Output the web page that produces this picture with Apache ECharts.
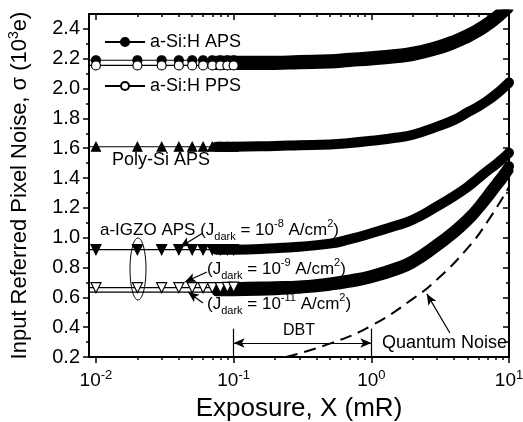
<!DOCTYPE html>
<html>
<head>
<meta charset="utf-8">
<script src="https://cdn.jsdelivr.net/npm/echarts@6/dist/echarts.min.js"></script>
<style>
html, body { margin: 0; padding: 0; background: #fff; }
#chart { width: 523px; height: 422px; }
</style>
</head>
<body>
<div id="chart"></div>
<script>
// exposure (mR) of the single markers on the left, before they merge
const markX = [0.0089, 0.01, 0.02, 0.03, 0.04, 0.05, 0.06, 0.07, 0.08, 0.09, 0.1];
// exposure (mR) along the merged marker band
const bandX = [0.075, 0.1, 0.2, 0.3, 0.5, 0.7, 1, 1.5, 2, 3, 4, 5, 6, 7, 8, 9, 10];

// noise (10^3 e) at markX
const siApsMarks = [2.19, 2.19, 2.19, 2.19, 2.19, 2.19, 2.19, 2.19, 2.19, 2.19, 2.19];
const siPpsMarks = [2.155, 2.155, 2.155, 2.155, 2.155, 2.155, 2.155, 2.155, 2.155, 2.155, 2.155];
const polyMarks = [1.61, 1.61, 1.61, 1.61, 1.61, 1.61, 1.61, 1.61, 1.61, 1.61, 1.61];
const igzo8Marks = [0.92, 0.92, 0.92, 0.92, 0.92, 0.92, 0.92, 0.92, 0.92, 0.92, 0.92];
const igzo9Marks = [0.665, 0.665, 0.665, 0.665, 0.665, 0.665, 0.665, 0.665, 0.665, 0.667, 0.668];
const igzo11Marks = [0.635, 0.635, 0.635, 0.635, 0.635, 0.635, 0.635, 0.635, 0.636, 0.637, 0.638];

// noise (10^3 e) at bandX
const siApsBand = [2.19, 2.19, 2.19, 2.195, 2.2, 2.21, 2.22, 2.235, 2.25, 2.29, 2.33, 2.37, 2.41, 2.45, 2.49, 2.53, 2.57];
const siPpsBand = [2.155, 2.155, 2.155, 2.16, 2.165, 2.175, 2.185, 2.2, 2.215, 2.255, 2.295, 2.335, 2.375, 2.415, 2.455, 2.495, 2.535];
const polyBand = [1.61, 1.61, 1.615, 1.62, 1.625, 1.635, 1.65, 1.67, 1.69, 1.745, 1.79, 1.84, 1.88, 1.92, 1.96, 2.0, 2.04];
const igzo8Band = [0.92, 0.92, 0.93, 0.94, 0.96, 0.99, 1.03, 1.08, 1.12, 1.21, 1.28, 1.34, 1.40, 1.45, 1.49, 1.53, 1.57];
const igzo9Band = [0.667, 0.668, 0.675, 0.68, 0.70, 0.72, 0.75, 0.80, 0.85, 0.96, 1.05, 1.13, 1.21, 1.29, 1.36, 1.42, 1.48];
const igzo11Band = [0.637, 0.638, 0.645, 0.655, 0.675, 0.695, 0.725, 0.775, 0.825, 0.935, 1.025, 1.105, 1.185, 1.26, 1.33, 1.39, 1.45];

// quantum noise (dashed)
const quantumX = [0.24, 0.5, 1, 2, 3, 5, 7, 10];
const quantumY = [0.2, 0.29, 0.41, 0.59, 0.72, 0.93, 1.11, 1.34];

// ticks
const xMajor = [0.01, 0.1, 1, 10];
const xMinor = [0.02, 0.03, 0.04, 0.05, 0.06, 0.07, 0.08, 0.09,
    0.2, 0.3, 0.4, 0.5, 0.6, 0.7, 0.8, 0.9, 2, 3, 4, 5, 6, 7, 8, 9];
const yMajor = [0.2, 0.4, 0.6, 0.8, 1.0, 1.2, 1.4, 1.6, 1.8, 2.0, 2.2, 2.4];
const yMinor = [0.3, 0.5, 0.7, 0.9, 1.1, 1.3, 1.5, 1.7, 1.9, 2.1, 2.3];

const FONT = 'Liberation Sans, Arial, sans-serif';
const xMin = 0.0089, xMax = 10, yMin = 0.2, yMax = 2.5;

let chart = echarts.init(document.getElementById('chart'), null, {renderer: 'canvas'});

function xAx(pos, ticks, len, inside, extra) {
    return Object.assign({
        type: 'log', logBase: 10, position: pos, min: xMin, max: xMax,
        axisLine: {show: true, lineStyle: {color: '#000', width: 2}},
        axisTick: {show: true, customValues: ticks, length: len, inside: inside, lineStyle: {color: '#000', width: 1.5}},
        axisLabel: {show: false},
        splitLine: {show: false}, minorTick: {show: false}, minorSplitLine: {show: false}
    }, extra || {});
}

function yAx(pos, ticks, len, inside, extra) {
    return Object.assign({
        type: 'value', position: pos, min: yMin, max: yMax,
        axisLine: {show: true, lineStyle: {color: '#000', width: 2}},
        axisTick: {show: true, customValues: ticks, length: len, inside: inside, lineStyle: {color: '#000', width: 1.5}},
        axisLabel: {show: false},
        splitLine: {show: false}, minorTick: {show: false}, minorSplitLine: {show: false}
    }, extra || {});
}

function markSeries(name, ys, sym, fill, rotate, size) {
    return {
        type: 'line', name: name, xAxisIndex: 0, yAxisIndex: 0,
        data: markX.map((x, i) => x < 0.01 ? {value: [x, ys[i]], symbol: 'none'} : [x, ys[i]]),
        symbol: sym, symbolSize: size || 9, symbolRotate: rotate || 0, showAllSymbol: true,
        lineStyle: {color: '#000', width: 1.2},
        itemStyle: {color: fill, borderColor: '#000', borderWidth: 1.2},
        z: 4
    };
}

function bandSeries(name, ys, width) {
    return {
        type: 'line', name: name, xAxisIndex: 0, yAxisIndex: 0,
        data: bandX.map((x, i) => [x, ys[i]]),
        symbol: 'none', smooth: true,
        lineStyle: {color: '#000', width: width || 10, cap: 'round'},
        z: 3
    };
}

const sup = {fontSize: 11, lineHeight: 12, verticalAlign: 'top', fontFamily: FONT, fill: '#000'};
const sub = {fontSize: 11, lineHeight: 12, verticalAlign: 'bottom', fontFamily: FONT, fill: '#000'};
const txt = {fontSize: 17, lineHeight: 24, fontFamily: FONT, fill: '#000'};

function jdark(exp) {
    return '{t|(J}{sub|dark}{t| = 10}{sup|' + exp + '}{t| A/cm}{sup|2}{t|)}';
}

let option = {
    animation: false,
    backgroundColor: '#fff',
    grid: {left: 89, right: 14, top: 14, bottom: 65, outerBoundsMode: 'none'},
    legend: {
        data: ['a-Si:H APS', 'a-Si:H PPS'],
        orient: 'vertical', left: 99, top: 27,
        itemWidth: 40, itemHeight: 10, itemGap: 24,
        selectedMode: false,
        textStyle: {fontSize: 18, lineHeight: 20, fontFamily: FONT, color: '#000'}
    },
    xAxis: [
        xAx('bottom', xMajor, 6, false, {
            name: 'Exposure, X (mR)', nameLocation: 'middle', nameGap: 38,
            nameTextStyle: {fontSize: 26, fontFamily: FONT, color: '#000'},
            axisLabel: {
                show: true, customValues: xMajor, margin: 12,
                formatter: v => '{b|10}{s|' + Math.round(Math.log10(v)) + '}',
                rich: {
                    b: {fontSize: 19, lineHeight: 24, fontFamily: FONT, color: '#000'},
                    s: {fontSize: 13, lineHeight: 14, verticalAlign: 'top', fontFamily: FONT, color: '#000'}
                }
            }
        }),
        xAx('bottom', xMinor, 3, false, {axisLine: {show: false}}),
        xAx('top', xMajor, 6, true),
        xAx('top', xMinor, 3, true, {axisLine: {show: false}})
    ],
    yAxis: [
        yAx('left', yMajor, 6, false, {
            name: '{t|Input Referred Pixel Noise, σ (10}{s|3}{t|e)}',
            nameLocation: 'middle', nameGap: 56,
            nameTextStyle: {
                rich: {
                    t: {fontSize: 22, lineHeight: 26, fontFamily: FONT, color: '#000'},
                    s: {fontSize: 14, lineHeight: 14, verticalAlign: 'top', fontFamily: FONT, color: '#000'}
                }
            },
            axisLabel: {
                show: true, customValues: yMajor, margin: 9,
                formatter: v => v.toFixed(1),
                fontSize: 20, fontFamily: FONT, color: '#000'
            }
        }),
        yAx('left', yMinor, 3, false, {axisLine: {show: false}}),
        yAx('right', yMajor, 6, true),
        yAx('right', yMinor, 3, true, {axisLine: {show: false}})
    ],
    series: [
        bandSeries('aps-band', siApsBand, 9),
        bandSeries('pps-band', siPpsBand, 9),
        bandSeries('poly-band', polyBand, 10),
        bandSeries('igzo8-band', igzo8Band, 10),
        bandSeries('igzo9-band', igzo9Band, 10),
        bandSeries('igzo11-band', igzo11Band, 9),
        markSeries('a-Si:H APS', siApsMarks, 'circle', '#000'),
        markSeries('a-Si:H PPS', siPpsMarks, 'circle', '#fff'),
        markSeries('Poly-Si APS', polyMarks, 'triangle', '#000', 0, 9),
        markSeries('a-IGZO 1e-8', igzo8Marks, 'triangle', '#000', 180, 10),
        markSeries('a-IGZO 1e-9', igzo9Marks, 'triangle', '#fff', 180, 10),
        markSeries('a-IGZO 1e-11', igzo11Marks, 'none', '#000'),
        {
            type: 'line', name: 'Quantum Noise', xAxisIndex: 0, yAxisIndex: 0,
            data: quantumX.map((x, i) => [x, quantumY[i]]),
            symbol: 'none', smooth: true,
            lineStyle: {color: '#000', width: 2, type: [12, 7]},
            z: 2
        },
        {
            type: 'line', name: 'notes', xAxisIndex: 0, yAxisIndex: 0, data: [],
            markLine: {
                silent: true, animation: false,
                symbol: ['none', 'arrow'], symbolSize: [7, 11],
                label: {show: false},
                lineStyle: {color: '#000', width: 1.2, type: 'solid'},
                data: [
                    [{coord: [0.0598, 1.032]}, {coord: [0.0408, 0.938]}],
                    [{coord: [0.064, 0.77]}, {coord: [0.0442, 0.703]}],
                    [{coord: [0.0598, 0.562]}, {coord: [0.0466, 0.636]}],
                    [{coord: [3.72, 0.361]}, {coord: [2.53, 0.623]}],
                    [{coord: [0.1, 0.294], symbol: 'arrow'}, {coord: [1, 0.294], symbol: 'arrow'}],
                    [{coord: [0.1, 0.2], symbol: 'none'}, {coord: [0.1, 0.39], symbol: 'none'}],
                    [{coord: [1, 0.2], symbol: 'none'}, {coord: [1, 0.39], symbol: 'none'}]
                ]
            }
        }
    ],
    graphic: [
        {type: 'text', left: 112, top: 151, style: {text: 'Poly-Si APS', font: '18px ' + FONT, fill: '#000'}},
        {type: 'text', left: 100, top: 218, style: {text: '{t|a-IGZO APS }' + jdark('-8'), rich: {t: txt, sup: sup, sub: sub}}},
        {type: 'text', left: 207, top: 257, style: {text: jdark('-9'), rich: {t: txt, sup: sup, sub: sub}}},
        {type: 'text', left: 207, top: 292, style: {text: jdark('-11'), rich: {t: txt, sup: sup, sub: sub}}},
        {type: 'text', left: 283, top: 323, style: {text: 'DBT', font: '16px ' + FONT, fill: '#000'}},
        {type: 'text', left: 382, top: 334, style: {text: 'Quantum Noise', font: '18px ' + FONT, fill: '#000'}},
        {type: 'ellipse', shape: {cx: 138, cy: 269, rx: 8, ry: 31}, style: {fill: 'none', stroke: '#000', lineWidth: 1}}
    ]
};

chart.setOption(option);
</script>
</body>
</html>
